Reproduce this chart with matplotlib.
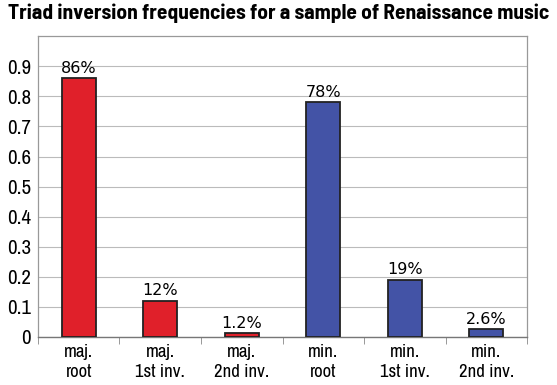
import matplotlib
matplotlib.use("Agg")
import matplotlib.pyplot as plt

categories = ["maj.\nroot", "maj.\n1st inv.", "maj.\n2nd inv.", "min.\nroot", "min.\n1st inv.", "min.\n2nd inv."]
values = [0.86, 0.12, 0.012, 0.78, 0.19, 0.026]
value_labels = ["86%", "12%", "1.2%", "78%", "19%", "2.6%"]
colors = ["#E0202A", "#E0202A", "#E0202A", "#4353A6", "#4353A6", "#4353A6"]
yticks = [0, 0.1, 0.2, 0.3, 0.4, 0.5, 0.6, 0.7, 0.8, 0.9]
ytick_labels = ["0", "0.1", "0.2", "0.3", "0.4", "0.5", "0.6", "0.7", "0.8", "0.9"]

NARROW = ["Liberation Sans Narrow", "Archivo Narrow", "DejaVu Sans"]
TITLE_FONT = ["Barlow Semi Condensed", "Asap Condensed", "DejaVu Sans"]

fig = plt.figure(figsize=(5.57, 3.85), dpi=100)
ax = fig.add_axes([0.0682, 0.1247, 0.878, 0.7813])

x = list(range(len(values)))
ax.bar(x, values, width=0.42, color=colors, edgecolor="#222222", linewidth=1.3, zorder=3)
for xi, v, lab in zip(x, values, value_labels):
    ax.text(xi, v + 0.008, lab, ha="center", va="bottom", fontsize=11.5,
            family="DejaVu Sans", zorder=4)

ax.set_xlim(-0.5, len(values) - 0.5)
ax.set_ylim(0, 1.0)
ax.set_yticks(yticks)
ax.set_yticklabels(ytick_labels, family=NARROW, fontsize=15)
ax.yaxis.grid(True, color="#bbbbbb", linewidth=0.8, zorder=0)
ax.tick_params(axis="y", length=0, pad=5)

ax.set_xticks(x)
ax.set_xticklabels(categories, family=NARROW, fontsize=13.5, linespacing=1.35)
ax.set_xticks([i - 0.5 for i in range(len(values) + 1)], minor=True)
ax.tick_params(axis="x", which="major", length=0, pad=5)
ax.tick_params(axis="x", which="minor", length=5, color="#888888", direction="out")

for s in ["top", "right", "left"]:
    ax.spines[s].set_color("#999999")
    ax.spines[s].set_linewidth(0.9)
ax.spines["bottom"].set_color("#777777")
ax.spines["bottom"].set_linewidth(1.0)

fig.text(0.5, 0.99, "Triad inversion frequencies for a sample of Renaissance music",
         ha="center", va="top", fontsize=15.4, fontweight="bold", family=TITLE_FONT)

fig.savefig("out.png", dpi=100)
